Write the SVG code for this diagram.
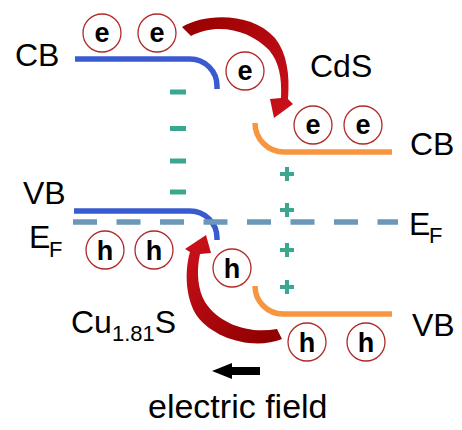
<svg xmlns="http://www.w3.org/2000/svg" width="462" height="430" viewBox="0 0 462 430">
<defs>
<style>
.lbl{font-family:"Liberation Sans",Arial,sans-serif;font-size:32px;fill:#000}
.sub{font-family:"Liberation Sans",Arial,sans-serif;font-size:22px;fill:#000}
.q{font-family:"Liberation Sans",Arial,sans-serif;font-size:27px;font-weight:bold;fill:#000;text-anchor:middle}
.c{fill:#fff;stroke:#b02a2a;stroke-width:1.3}
.blue{fill:none;stroke:#3a5bcf;stroke-width:5.5}
.orange{fill:none;stroke:#f8963f;stroke-width:5.5}
.teal{fill:#3aa88f}
</style>
<linearGradient id="gTop" gradientUnits="userSpaceOnUse" x1="182" y1="30" x2="280" y2="115">
<stop offset="0" stop-color="#9a0000"/><stop offset="1" stop-color="#c8101a"/>
</linearGradient>
<linearGradient id="gBot" gradientUnits="userSpaceOnUse" x1="282" y1="338" x2="200" y2="240">
<stop offset="0" stop-color="#8e0000"/><stop offset="1" stop-color="#c8101a"/>
</linearGradient>
</defs>
<rect width="462" height="430" fill="#fff"/>

<g id="bands">
<path class="blue" d="M75,59 H190 A27,27 0 0 1 217,86 V89"/>
<path class="blue" d="M74,211 H190 A27,27 0 0 1 217,238 V240"/>
<path class="orange" d="M255,123 A29,29 0 0 0 284,152 H392"/>
<path class="orange" d="M255,286 A28,28 0 0 0 283,314 H392"/>
<line x1="73" y1="222" x2="398" y2="222" stroke="#6b97b8" stroke-width="5.5" stroke-dasharray="24 19.5"/>
</g>

<g id="charges">
<rect class="teal" x="170" y="89.5" width="16" height="5"/>
<rect class="teal" x="170" y="126" width="16" height="5"/>
<rect class="teal" x="170" y="158.5" width="16" height="5"/>
<rect class="teal" x="170" y="189.5" width="16" height="5"/>
<g class="teal">
<rect x="280" y="172" width="14" height="4"/><rect x="285" y="167" width="4" height="14"/>
<rect x="280" y="208" width="14" height="4"/><rect x="285" y="203" width="4" height="14"/>
<rect x="280" y="248" width="14" height="4"/><rect x="285" y="243" width="4" height="14"/>
<rect x="280" y="285" width="14" height="4"/><rect x="285" y="280" width="4" height="14"/>
</g>
</g>

<g id="connectors">
<path fill="url(#gTop)" d="M182,27 C205,13 252,12 275,38 C287,53 290,75 288,99 L293,104 L274,118 L270,99 L281,98 C282,77 279,62 269,50 C250,30 217,22 191,36 Z"/>
<path fill="url(#gBot)" d="M282,339 C255,350 215,340 197,316 C186,300 184,272 190,252 L185,249 L206,235 L211,253 L200,254 C196,272 198,290 205,302 C220,325 250,334 277,329 Z"/>
<path fill="#000" d="M212,371 L232,363 L232,367 L260,367 L260,375 L232,375 L232,379 Z"/>
</g>

<g id="electrons">
<circle class="c" cx="102" cy="33" r="19"/><text class="q" x="102" y="42">e</text>
<circle class="c" cx="157" cy="33" r="19"/><text class="q" x="157" y="42">e</text>
<circle class="c" cx="245" cy="71" r="19"/><text class="q" x="245" y="80">e</text>
<circle class="c" cx="313" cy="125" r="19"/><text class="q" x="313" y="134">e</text>
<circle class="c" cx="363" cy="125" r="19"/><text class="q" x="363" y="134">e</text>
</g>

<g id="holes">
<circle class="c" cx="105" cy="250" r="19"/><text class="q" x="105" y="260">h</text>
<circle class="c" cx="154" cy="250" r="19"/><text class="q" x="154" y="260">h</text>
<circle class="c" cx="232" cy="268" r="19"/><text class="q" x="232" y="278">h</text>
<circle class="c" cx="307" cy="342" r="19"/><text class="q" x="307" y="352">h</text>
<circle class="c" cx="366" cy="342" r="19"/><text class="q" x="366" y="352">h</text>
</g>

<g id="labels">
<text class="lbl" x="15" y="66">CB</text>
<text class="lbl" x="310" y="77">CdS</text>
<text class="lbl" x="410" y="155">CB</text>
<text class="lbl" x="23" y="204">VB</text>
<text class="lbl" x="29" y="248">E</text><text class="sub" x="49" y="257">F</text>
<text class="lbl" x="409" y="235">E</text><text class="sub" x="429" y="243">F</text>
<text class="lbl" x="412" y="336">VB</text>
<text class="lbl" x="71" y="333">Cu<tspan class="sub" dy="8">1.81</tspan><tspan dy="-8">S</tspan></text>
<text class="lbl" x="148" y="418" style="font-size:34px">electric field</text>
</g>
</svg>
